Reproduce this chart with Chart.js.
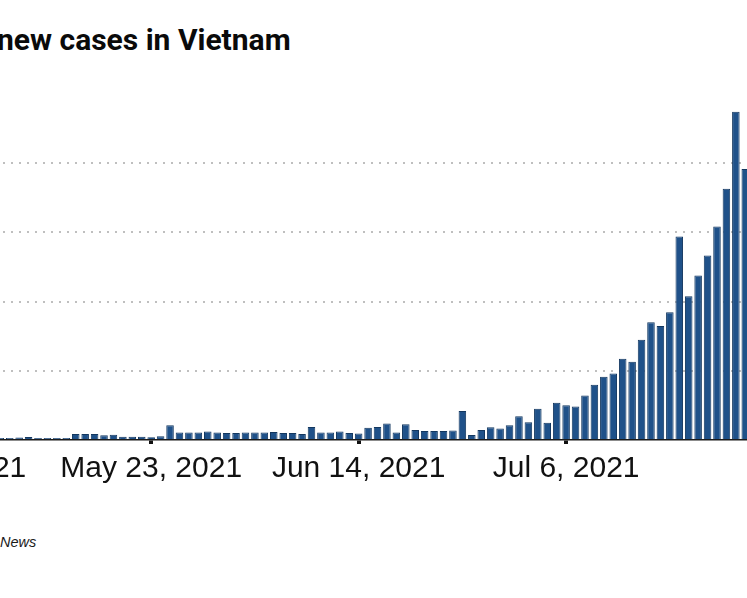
<!DOCTYPE html>
<html>
<head>
<meta charset="utf-8">
<script src="https://cdn.jsdelivr.net/npm/chart.js@4"></script>
<style>
  html, body { margin: 0; padding: 0; background: #fff; }
  #wrap { position: relative; width: 747px; height: 598px; overflow: hidden; background: #fff; }
  #title { position: absolute; left: -3px; top: 22px; font: bold 30px Roboto, sans-serif; color: #0a0a0a; white-space: nowrap; }
  #source { position: absolute; left: 0px; top: 534px; font: italic 14.5px "Liberation Sans", Arial, sans-serif; color: #1a1a1a; }
  #chart { position: absolute; left: -61px; top: 84px; }
</style>
</head>
<body>
<div id="wrap">
  <div id="title">new cases in Vietnam</div>
  <canvas id="chart" width="811" height="406"></canvas>
  <div id="source">News</div>
</div>
<script>
// one bar per day, May 1 - Jul 25 2021 (first days fall outside the crop)
var months = ['May', 'Jun', 'Jul'];
var monthDays = [31, 30, 25];
var days = [];
months.forEach(function (m, k) {
  for (var d = 1; d <= monthDays[k]; d++) days.push(m + ' ' + d);
});

var tickDays = ['May 1', 'May 23', 'Jun 14', 'Jul 6'];
var tickLabels = ['May 1, 2021', 'May 23, 2021', 'Jun 14, 2021', 'Jul 6, 2021'];

var casesMay = [null, null, null, null, null, null, 60, 60, 75, 90, 60, 60, 60, 60, 170, 170,
  170, 140, 155, 95, 95, 95, 80, 110, 425, 215, 215, 215, 245, 215, 200];
var casesJun = [200, 215, 215, 215, 230, 200, 200, 175, 375, 215, 215, 245, 200, 190, 355,
  375, 480, 215, 455, 290, 260, 260, 260, 275, 835, 145, 290, 370, 330, 425];
var casesJul = [685, 515, 900, 495, 1075, 1005, 965, 1285, 1595, 1825, 1920, 2345, 2265,
  2900, 3400, 3295, 3690, 5880, 4155, 4755, 5335, 6170, 7265, 9490, 7835];
var newCases = casesMay.concat(casesJun, casesJul);

var gridValues = [2000, 4000, 6000, 8000];

var ctx = document.getElementById('chart').getContext('2d');
var chart = new Chart(ctx, {
  type: 'bar',
  data: {
    labels: days,
    datasets: [{
      label: 'New cases',
      data: newCases,
      backgroundColor: '#1f5189',
      borderColor: '#13375f',
      borderWidth: 1,
      barPercentage: 0.8,
      categoryPercentage: 1.0
    }]
  },
  options: {
    responsive: false,
    animation: false,
    layout: { padding: { top: 10, left: 0, right: 0, bottom: 0 } },
    plugins: { legend: { display: false }, tooltip: { enabled: false } },
    scales: {
      x: {
        offset: true,
        grid: {
          display: true,
          offset: false,
          drawOnChartArea: false,
          drawTicks: true,
          tickLength: 4,
          lineWidth: 4,
          color: function (c) {
            return tickDays.indexOf(days[c.index]) >= 0 ? '#111' : 'rgba(0,0,0,0)';
          }
        },
        border: { display: true, color: '#1b1b1b', width: 1.5 },
        ticks: {
          autoSkip: false,
          maxRotation: 0,
          minRotation: 0,
          padding: 7,
          color: '#111',
          font: { family: '"Liberation Sans", Arial, sans-serif', size: 30 },
          callback: function (value, index) {
            var i = tickDays.indexOf(days[index]);
            return i >= 0 ? tickLabels[i] : '';
          }
        },
        afterFit: function (scale) {
          scale.paddingLeft = 0;
          scale.paddingRight = 0;
          scale.height = 50;
        }
      },
      y: {
        min: 0,
        max: 10000,
        ticks: { display: false, stepSize: 2000 },
        border: { display: false, dash: [2, 6] },
        grid: {
          drawTicks: false,
          lineWidth: 2,
          color: function (c) {
            return gridValues.indexOf(c.tick.value) >= 0 ? '#bfbfbf' : 'rgba(0,0,0,0)';
          }
        }
      }
    }
  }
});
</script>
</body>
</html>
